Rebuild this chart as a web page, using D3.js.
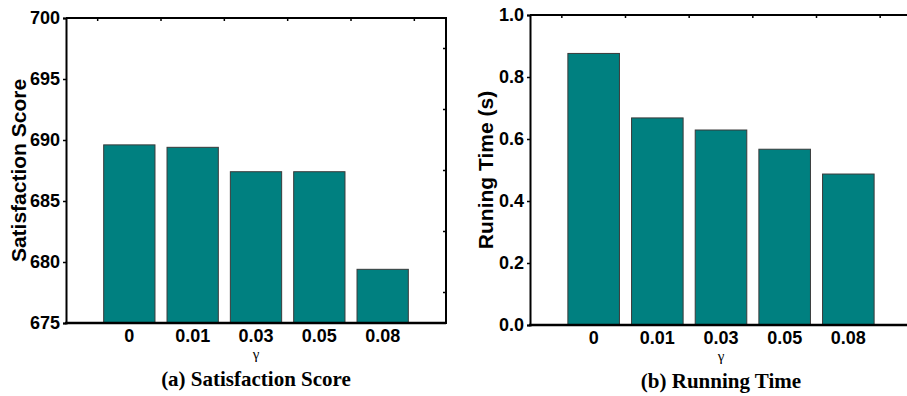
<!DOCTYPE html>
<html>
<head>
<meta charset="utf-8">
<script src="https://cdn.jsdelivr.net/npm/d3@7"></script>
<style>
  body { margin: 0; background: #fff; }
  svg { display: block; }
</style>
</head>
<body>
<svg id="chart" width="907" height="396"></svg>
<script>
const GAMMAS = ['0', '0.01', '0.03', '0.05', '0.08']
const SATISFACTION = [689.6, 689.4, 687.4, 687.4, 679.4]
const RUNNING_TIME = [0.876, 0.668, 0.629, 0.567, 0.487]
const SAT_TICKS = [675, 680, 685, 690, 695, 700]
const TIME_TICKS = [0, 0.2, 0.4, 0.6, 0.8, 1.0]

const BAR_FILL = '#008080'
const SANS = '"Liberation Sans", Arial, sans-serif'
const SERIF = '"Liberation Serif", "Times New Roman", serif'

const svg = d3.select('#chart')

function drawPanel (opts) {
  const { left, right, top, bottom, values, domain, ticks, fmt, yLabel, yLabelX, caption, showRight } = opts
  const g = svg.append('g')

  const x = d3.scaleBand()
    .domain(GAMMAS)
    .range([left, right])
    .paddingInner(0.19)
    .paddingOuter(0.595)

  const y = d3.scaleLinear()
    .domain(domain)
    .range([bottom, top])

  const step = x.step()

  // bars
  g.selectAll('rect.bar')
    .data(values)
    .join('rect')
    .attr('class', 'bar')
    .attr('x', (d, i) => x(GAMMAS[i]))
    .attr('width', x.bandwidth())
    .attr('y', d => y(d))
    .attr('height', d => y(domain[0]) - y(d))
    .attr('fill', BAR_FILL)
    .attr('stroke', '#3a3a3a')
    .attr('stroke-width', 1)

  // left axis
  const yAxis = d3.axisLeft(y)
    .tickValues(ticks)
    .tickFormat(fmt)
    .tickSize(3)
    .tickPadding(3)
  const ya = g.append('g')
    .attr('transform', `translate(${left},0)`)
    .call(yAxis)
  ya.select('.domain').attr('stroke-width', 2)
  ya.selectAll('.tick line').attr('stroke-width', 1.5)
  ya.selectAll('.tick text')
    .style('font-family', SANS)
    .style('font-size', '18px')
    .style('font-weight', 'bold')
    .attr('fill', '#000')

  // frame: top and bottom (and right if visible)
  g.append('line')
    .attr('x1', left).attr('x2', right)
    .attr('y1', top).attr('y2', top)
    .attr('stroke', '#000').attr('stroke-width', 2)
  g.append('line')
    .attr('x1', left - 1).attr('x2', right)
    .attr('y1', bottom).attr('y2', bottom)
    .attr('stroke', '#000').attr('stroke-width', 2.5)
  if (showRight) {
    g.append('line')
      .attr('x1', right).attr('x2', right)
      .attr('y1', top - 1).attr('y2', bottom + 1)
      .attr('stroke', '#000').attr('stroke-width', 2)
    // minor ticks on the right edge
    const mids = ticks.slice(1).map((t, i) => (t + ticks[i]) / 2)
    g.selectAll('line.rtick')
      .data(mids)
      .join('line')
      .attr('class', 'rtick')
      .attr('x1', right - 3).attr('x2', right)
      .attr('y1', d => y(d)).attr('y2', d => y(d))
      .attr('stroke', '#000').attr('stroke-width', 1.5)
  }

  // top ticks between categories
  const topTicks = GAMMAS.map(c => x(c) + x.bandwidth() / 2 - step / 2)
  topTicks.push(x(GAMMAS[GAMMAS.length - 1]) + x.bandwidth() / 2 + step / 2)
  g.selectAll('line.ttick')
    .data(topTicks)
    .join('line')
    .attr('class', 'ttick')
    .attr('x1', d => d).attr('x2', d => d)
    .attr('y1', top).attr('y2', top + 3)
    .attr('stroke', '#000').attr('stroke-width', 1.5)

  // x category labels
  g.selectAll('text.xlab')
    .data(GAMMAS)
    .join('text')
    .attr('class', 'xlab')
    .attr('x', d => x(d) + x.bandwidth() / 2)
    .attr('y', bottom + 19)
    .attr('text-anchor', 'middle')
    .style('font-family', SANS)
    .style('font-size', '18px')
    .style('font-weight', 'bold')
    .text(d => d)

  const cx = (left + right) / 2

  g.append('text')
    .attr('x', cx)
    .attr('y', bottom + 36)
    .attr('text-anchor', 'middle')
    .style('font-family', SERIF)
    .style('font-size', '15px')
    .text('γ')

  g.append('text')
    .attr('x', cx)
    .attr('y', bottom + 63)
    .attr('text-anchor', 'middle')
    .style('font-family', SERIF)
    .style('font-size', '21px')
    .style('font-weight', 'bold')
    .text(caption)

  g.append('text')
    .attr('transform', `translate(${yLabelX},${(top + bottom) / 2}) rotate(-90)`)
    .attr('text-anchor', 'middle')
    .style('font-family', SANS)
    .style('font-size', '21px')
    .style('font-weight', 'bold')
    .text(yLabel)
}

drawPanel({
  left: 66,
  right: 446,
  top: 18,
  bottom: 323,
  values: SATISFACTION,
  domain: [675, 700],
  ticks: SAT_TICKS,
  fmt: d3.format('d'),
  yLabel: 'Satisfaction Score',
  yLabelX: 26,
  caption: '(a) Satisfaction Score',
  showRight: true
})

drawPanel({
  left: 530,
  right: 912,
  top: 15,
  bottom: 325,
  values: RUNNING_TIME,
  domain: [0, 1],
  ticks: TIME_TICKS,
  fmt: d3.format('.1f'),
  yLabel: 'Runing Time (s)',
  yLabelX: 493,
  caption: '(b) Running Time',
  showRight: false
})
</script>
</body>
</html>
